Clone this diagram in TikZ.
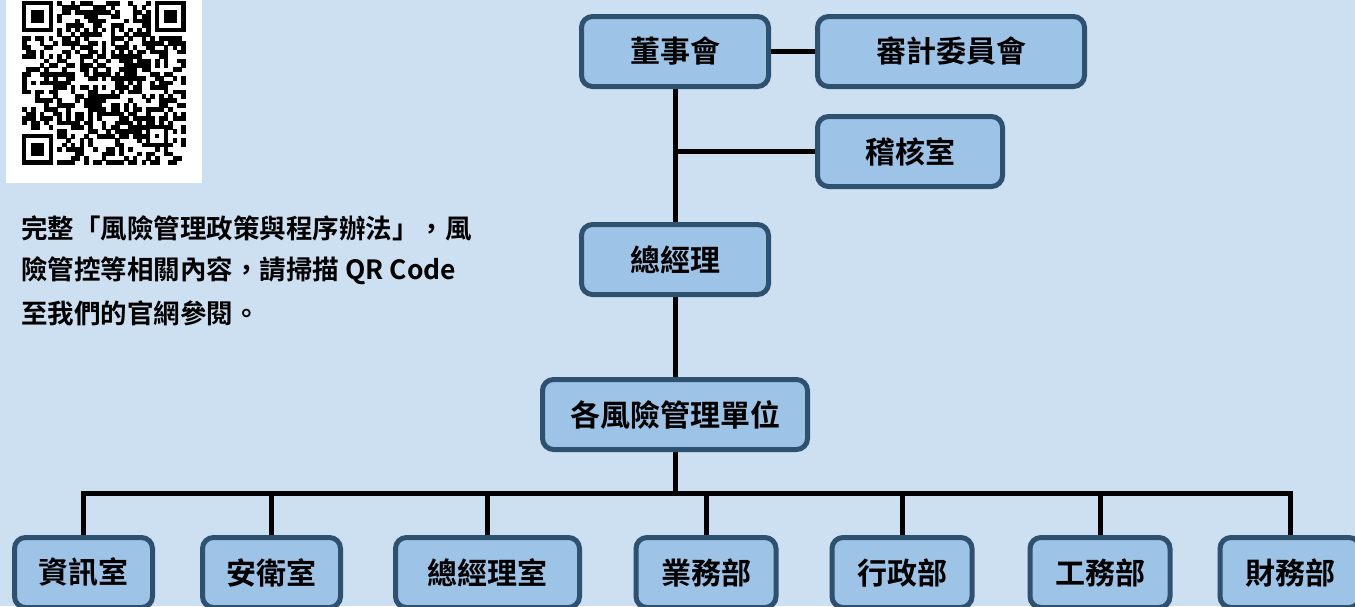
\documentclass[tikz,border=0pt]{standalone}
\usepackage{fontspec}
\usetikzlibrary{backgrounds}
\newfontfamily\cjkb{Noto Sans CJK TC Bold}
\definecolor{bg}{HTML}{CDE0F2}
\definecolor{boxfill}{HTML}{9DC3E6}
\definecolor{boxline}{HTML}{2F5170}
\begin{document}
\begin{tikzpicture}[x=1pt,y=-1pt,
  box/.style={draw=boxline, line width=5pt, fill=boxfill, rounded corners=11pt,
    minimum height=70pt, inner sep=0pt, text=black,
    font=\cjkb\fontsize{30}{36}\selectfont},
  link/.style={line width=5pt, draw=black},
  note/.style={anchor=west, inner sep=0pt, text=black, font=\cjkb\fontsize{26.5}{30}\selectfont},
  qrcell/.style={fill=black}]
\useasboundingbox (0,0) rectangle (1355,606);
\begin{scope}[on background layer]
  \fill[bg] (0,0) rectangle (1355,606);
\end{scope}

% QR code
\fill[white] (6,0) rectangle (202,183);
\def\qs{4.43}
\pgfmathsetseed{20240}
\foreach \i in {0,...,36}{
  \foreach \j in {0,...,36}{
    \pgfmathtruncatemacro\fnd{((\i<8)&&(\j<8))||((\i>28)&&(\j<8))||((\i<8)&&(\j>28))||((\i>27)&&(\i<33)&&(\j>27)&&(\j<33))}
    \ifnum\fnd=0
      \pgfmathtruncatemacro\tim{(\i==6)||(\j==6)}
      \ifnum\tim=1
        \pgfmathtruncatemacro\r{mod(\i+\j+1,2)}
      \else
        \pgfmathtruncatemacro\r{rnd<0.5}
      \fi
      \ifnum\r=1
        \fill[qrcell] (22+\i*\qs,1+\j*\qs) rectangle (22.3+\i*\qs+\qs,1.3+\j*\qs+\qs);
      \fi
    \fi
  }
}
\foreach \ox/\oy in {0/0,30/0,0/30}{
  \fill[black] (22+\ox*\qs,1+\oy*\qs) rectangle (22+\ox*\qs+7*\qs,1+\oy*\qs+7*\qs);
  \fill[white] (22+\ox*\qs+\qs,1+\oy*\qs+\qs) rectangle (22+\ox*\qs+6*\qs,1+\oy*\qs+6*\qs);
  \fill[black] (22+\ox*\qs+2*\qs,1+\oy*\qs+2*\qs) rectangle (22+\ox*\qs+5*\qs,1+\oy*\qs+5*\qs);
}
\fill[black] (22+28*\qs,1+28*\qs) rectangle (22+33*\qs,1+33*\qs);
\fill[white] (22+29*\qs,1+29*\qs) rectangle (22+32*\qs,1+32*\qs);
\fill[black] (22+30*\qs,1+30*\qs) rectangle (22+31*\qs,1+31*\qs);

% note text
\node[note] (n1) at (21,228) {完整「風險管理政策與程序辦法」，風};
\node[note] (n2) at (21,271) {險管控等相關內容，請掃描 QR Code};
\node[note] (n3) at (21,313) {至我們的官網參閱。};

% boxes
\node[box, minimum width=187pt] (board) at (675,51.5) {董事會};
\node[box, minimum width=267pt] (audit) at (951,51.5) {審計委員會};
\node[box, minimum width=185pt] (inaudit) at (910,151.5) {稽核室};
\node[box, minimum width=187pt] (gm) at (675,259.5) {總經理};
\node[box, minimum width=265pt] (units) at (675,414.5) {各風險管理單位};

\node[box, minimum width=138pt] (d1) at (83.5,572.5) {資訊室};
\node[box, minimum width=138pt] (d2) at (271.5,572.5) {安衛室};
\node[box, minimum width=184pt] (d3) at (487.5,572.5) {總經理室};
\node[box, minimum width=140pt] (d4) at (706,572.5) {業務部};
\node[box, minimum width=140pt] (d5) at (902,572.5) {行政部};
\node[box, minimum width=140pt] (d6) at (1100,572.5) {工務部};
\node[box, minimum width=140pt] (d7) at (1290,572.5) {財務部};

\coordinate (bus) at (675,493);
\begin{scope}[on background layer]
  \draw[link] (board.east) -- (audit.west);
  \draw[link] (board.south) -- (gm.north);
  \draw[link] (inaudit.west) -- (inaudit.west -| board.south);
  \draw[link] (gm.south) -- (units.north);
  \draw[link] (units.south) -- (bus);
  \draw[link] (d1.north) -- (d1.north |- bus) -- (d7.north |- bus) -- (d7.north);
  \foreach \d in {d2,d3,d4,d5,d6}{
    \draw[link] (\d.north) -- (\d.north |- bus);
  }
\end{scope}
\end{tikzpicture}
\end{document}
